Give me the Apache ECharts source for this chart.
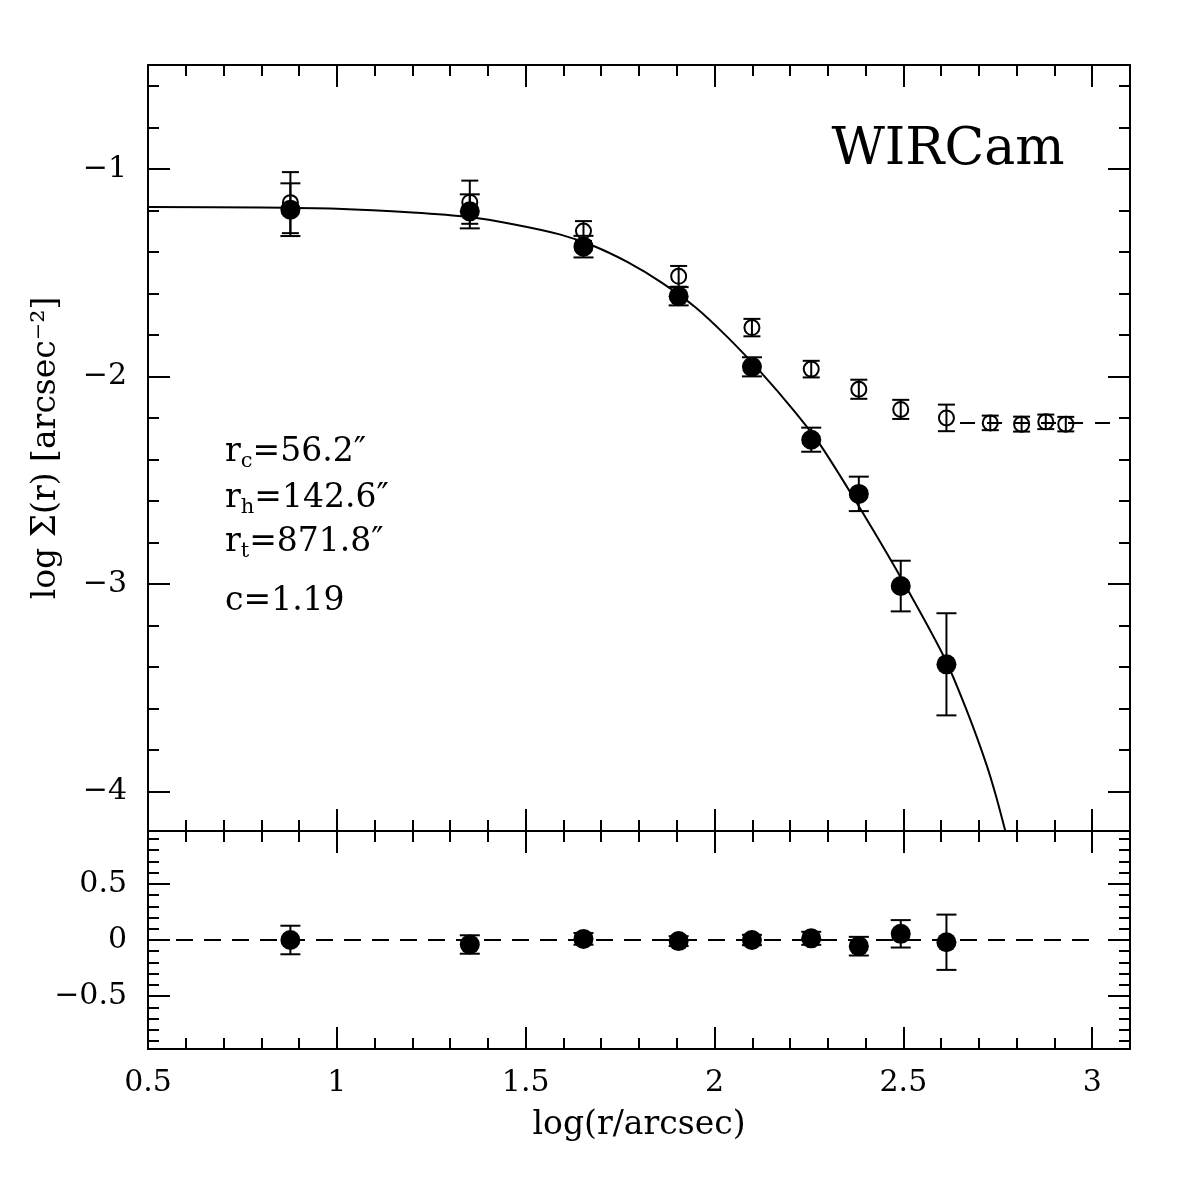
<!DOCTYPE html>
<html>
<head>
<meta charset="utf-8">
<title>WIRCam surface density profile</title>
<script src="https://cdn.jsdelivr.net/npm/echarts@6/dist/echarts.min.js"></script>
<style>
  html, body { margin: 0; padding: 0; background: #fff; }
  #chart { width: 1196px; height: 1196px; }
</style>
</head>
<body>
<div id="chart"></div>
<script>
// filled circles: background-subtracted profile
var logR = [0.877, 1.352, 1.653, 1.905, 2.099, 2.256, 2.382, 2.493, 2.614];
var logSigma = [-1.197, -1.205, -1.375, -1.614, -1.954, -2.305, -2.566, -3.010, -3.387];
var logSigmaErr = [0.127, 0.082, 0.052, 0.044, 0.046, 0.058, 0.083, 0.122, 0.246];

// open circles: raw profile, before background subtraction
var rawLogR = [0.877, 1.352, 1.653, 1.905, 2.099, 2.256, 2.382, 2.493, 2.614, 2.730, 2.813, 2.877, 2.930];
var rawLogSigma = [-1.163, -1.161, -1.300, -1.518, -1.765, -1.965, -2.062, -2.159, -2.200, -2.224, -2.230, -2.219, -2.230];
var rawLogSigmaErr = [0.147, 0.104, 0.048, 0.050, 0.042, 0.040, 0.046, 0.046, 0.064, 0.035, 0.036, 0.035, 0.035];

// King model curve
var kingLogR = [0.50, 0.80, 1.00, 1.20, 1.35, 1.47, 1.59, 1.68, 1.77, 1.86, 1.95, 2.035, 2.12, 2.21, 2.28, 2.38, 2.495, 2.61, 2.67, 2.72, 2.745, 2.767, 2.775];
var kingLogSigma = [-1.184, -1.186, -1.192, -1.210, -1.232, -1.268, -1.316, -1.372, -1.450, -1.548, -1.668, -1.812, -1.975, -2.165, -2.330, -2.620, -2.975, -3.360, -3.620, -3.870, -4.020, -4.170, -4.230];

// background level (dashed)
var bgLogR = [2.65, 3.05];
var bgLevel = [-2.224, -2.224];

// residuals, lower panel
var residual = [0.00, -0.04, 0.01, -0.01, 0.00, 0.015, -0.055, 0.055, -0.02];
var zeroLogR = [0.5, 3.0];
var zeroLevel = [0, 0];

// ticks
var xTicks = [0.5, 1, 1.5, 2, 2.5, 3];
var xMinorTicks = [0.6, 0.7, 0.8, 0.9, 1.1, 1.2, 1.3, 1.4, 1.6, 1.7, 1.8, 1.9, 2.1, 2.2, 2.3, 2.4, 2.6, 2.7, 2.8, 2.9];
var topYTicks = [-4, -3, -2, -1];
var topYMinorTicks = [-3.8, -3.6, -3.4, -3.2, -2.8, -2.6, -2.4, -2.2, -1.8, -1.6, -1.4, -1.2, -0.8, -0.6];
var botYTicks = [-0.5, 0, 0.5];
var botYMinorTicks = [-0.9, -0.8, -0.7, -0.6, -0.4, -0.3, -0.2, -0.1, 0.1, 0.2, 0.3, 0.4, 0.6, 0.7, 0.8, 0.9];

var FONT = '"DejaVu Serif", "Liberation Serif", serif';

function fmt(v) {
    return String(v).replace('-', '\u2212');
}

// one axis = one set of ticks (major or minor) on one side
function axis(grid, pos, min, max, vals, len, line, labels, margin) {
    return {
        type: 'value', gridIndex: grid, position: pos, min: min, max: max,
        axisLine: { show: line, onZero: false, lineStyle: { color: '#000', width: 2 } },
        axisTick: { show: true, inside: true, length: len, customValues: vals,
            lineStyle: { color: '#000', width: 2 } },
        axisLabel: labels ? { show: true, customValues: vals, formatter: fmt, color: '#000',
            fontFamily: FONT, fontSize: 30, margin: margin } : { show: false },
        splitLine: { show: false }
    };
}

function pairs(xs, ys) {
    return xs.map(function (x, i) { return [x, ys[i]]; });
}

function errorBars(xs, ys, errs, xi, yi, cap) {
    return {
        type: 'custom', xAxisIndex: xi, yAxisIndex: yi, z: 3, silent: true,
        data: xs.map(function (x, i) { return [x, ys[i] - errs[i], ys[i] + errs[i]]; }),
        encode: { x: 0, y: [1, 2] },
        renderItem: function (params, api) {
            var lo = api.coord([api.value(0), api.value(1)]);
            var hi = api.coord([api.value(0), api.value(2)]);
            var st = { stroke: '#000', lineWidth: 2 };
            return { type: 'group', children: [
                { type: 'line', shape: { x1: lo[0], y1: lo[1], x2: hi[0], y2: hi[1] }, style: st },
                { type: 'line', shape: { x1: lo[0] - cap, y1: lo[1], x2: lo[0] + cap, y2: lo[1] }, style: st },
                { type: 'line', shape: { x1: hi[0] - cap, y1: hi[1], x2: hi[0] + cap, y2: hi[1] }, style: st }
            ] };
        }
    };
}

var xAxes = [
    // upper panel
    axis(0, 'bottom', 0.5, 3.1, xTicks, 22, true, false),
    axis(0, 'bottom', 0.5, 3.1, xMinorTicks, 11, false, false),
    axis(0, 'top', 0.5, 3.1, xTicks, 22, true, false),
    axis(0, 'top', 0.5, 3.1, xMinorTicks, 11, false, false),
    // lower panel
    axis(1, 'bottom', 0.5, 3.1, xTicks, 22, true, true, 19),
    axis(1, 'bottom', 0.5, 3.1, xMinorTicks, 11, false, false),
    axis(1, 'top', 0.5, 3.1, xTicks, 22, true, false),
    axis(1, 'top', 0.5, 3.1, xMinorTicks, 11, false, false)
];
xAxes[4].name = 'log(r/arcsec)';
xAxes[4].nameLocation = 'middle';
xAxes[4].nameGap = 60;
xAxes[4].nameTextStyle = { color: '#000', fontFamily: FONT, fontSize: 33 };

var yAxes = [
    // upper panel
    axis(0, 'left', -4.19, -0.5, topYTicks, 22, true, true, 21),
    axis(0, 'left', -4.19, -0.5, topYMinorTicks, 11, false, false),
    axis(0, 'right', -4.19, -0.5, topYTicks, 22, true, false),
    axis(0, 'right', -4.19, -0.5, topYMinorTicks, 11, false, false),
    // lower panel
    axis(1, 'left', -0.97, 0.97, botYTicks, 22, true, true, 21),
    axis(1, 'left', -0.97, 0.97, botYMinorTicks, 11, false, false),
    axis(1, 'right', -0.97, 0.97, botYTicks, 22, true, false),
    axis(1, 'right', -0.97, 0.97, botYMinorTicks, 11, false, false)
];
yAxes[0].name = 'log \u03a3(r) [arcsec\u207b\u00b2]';
yAxes[0].nameLocation = 'middle';
yAxes[0].nameGap = 85;
yAxes[0].nameTextStyle = { color: '#000', fontFamily: FONT, fontSize: 33 };

function paramLine(top, main, sub, rest) {
    return {
        type: 'text', left: 225, top: top, z: 10,
        style: {
            text: '{m|' + main + '}' + (sub ? '{s|' + sub + '}' : '') + '{m|' + rest + '}',
            rich: {
                m: { fontFamily: FONT, fontSize: 33, lineHeight: 40, fill: '#000', color: '#000', verticalAlign: 'middle' },
                s: { fontFamily: FONT, fontSize: 21, lineHeight: 20, fill: '#000', color: '#000', verticalAlign: 'bottom' }
            }
        }
    };
}

var chart = echarts.init(document.getElementById('chart'), null, { renderer: 'canvas' });
chart.setOption({
    animation: false,
    backgroundColor: '#fff',
    grid: [
        { left: 148, top: 65, width: 982, height: 766, outerBoundsMode: 'none' },
        { left: 148, top: 831, width: 982, height: 218, outerBoundsMode: 'none' }
    ],
    xAxis: xAxes,
    yAxis: yAxes,
    graphic: [
        { type: 'text', x: 948, y: 150, z: 10,
          style: { text: 'WIRCam', fontFamily: FONT, fontSize: 52, fill: '#000',
                   align: 'center', textAlign: 'center', verticalAlign: 'middle', textVerticalAlign: 'middle' } },
        paramLine(436, 'r', 'c', '=56.2\u2033'),
        paramLine(482, 'r', 'h', '=142.6\u2033'),
        paramLine(526, 'r', 't', '=871.8\u2033'),
        paramLine(585, 'c=1.19', '', '')
    ],
    series: [
        {
            type: 'line', xAxisIndex: 0, yAxisIndex: 0, z: 2, smooth: 0.3,
            showSymbol: false, clip: true,
            lineStyle: { color: '#000', width: 2 },
            data: pairs(kingLogR, kingLogSigma)
        },
        {
            type: 'line', xAxisIndex: 0, yAxisIndex: 0, z: 2,
            showSymbol: false,
            lineStyle: { color: '#000', width: 2, type: [15, 12] },
            data: pairs(bgLogR, bgLevel)
        },
        errorBars(rawLogR, rawLogSigma, rawLogSigmaErr, 0, 0, 8.5),
        {
            type: 'scatter', xAxisIndex: 0, yAxisIndex: 0, z: 4,
            symbol: 'circle', symbolSize: 15,
            itemStyle: { color: 'rgba(0,0,0,0)', borderColor: '#000', borderWidth: 2, opacity: 1 },
            data: pairs(rawLogR, rawLogSigma)
        },
        errorBars(logR, logSigma, logSigmaErr, 0, 0, 10),
        {
            type: 'scatter', xAxisIndex: 0, yAxisIndex: 0, z: 5,
            symbol: 'circle', symbolSize: 20,
            itemStyle: { color: '#000', opacity: 1 },
            data: pairs(logR, logSigma)
        },
        // lower panel: residuals
        {
            type: 'line', xAxisIndex: 4, yAxisIndex: 4, z: 2,
            showSymbol: false,
            lineStyle: { color: '#000', width: 2, type: [17, 11] },
            data: pairs(zeroLogR, zeroLevel)
        },
        errorBars(logR, residual, logSigmaErr, 4, 4, 10),
        {
            type: 'scatter', xAxisIndex: 4, yAxisIndex: 4, z: 5,
            symbol: 'circle', symbolSize: 20,
            itemStyle: { color: '#000', opacity: 1 },
            data: pairs(logR, residual)
        }
    ]
});
</script>
</body>
</html>
